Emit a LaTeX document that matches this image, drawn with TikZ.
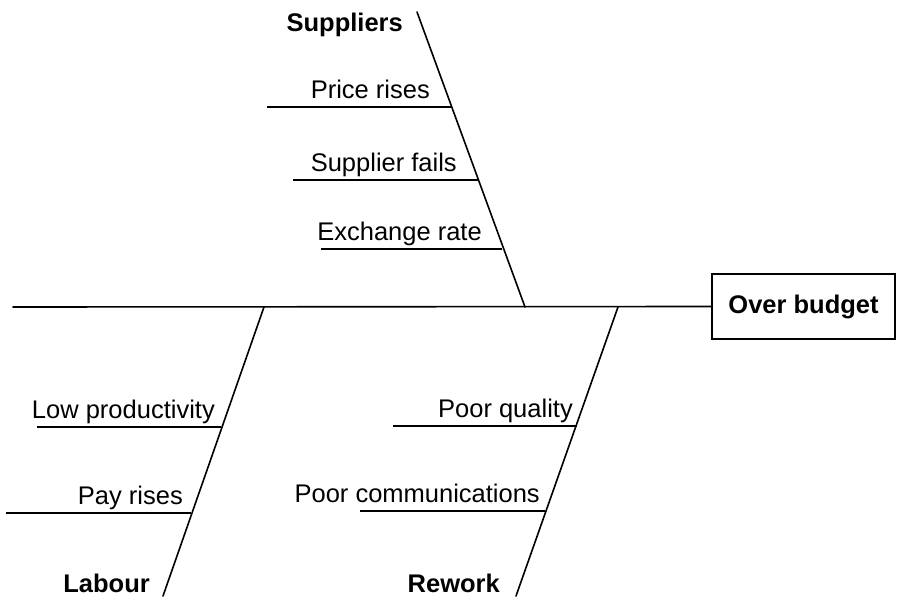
\documentclass[tikz,border=0pt]{standalone}
\usepackage{fontspec}
\setmainfont{Liberation Sans}
\usetikzlibrary{positioning}
\tikzset{
  bone/.style={line width=1.6pt,line cap=round},
  twig/.style={line width=1.4pt},
  causelabel/.style={anchor=base east,inner sep=0pt,font=\fontsize{25.5}{30}\selectfont},
  catlabel/.style={anchor=base east,inner sep=0pt,font=\fontsize{25.5}{30}\selectfont\bfseries},
  effectbox/.style={draw,line width=1.6pt,minimum width=183pt,minimum height=65pt,
    inner sep=0pt,font=\fontsize{25.5}{30}\selectfont\bfseries}
}
\begin{document}
\begin{tikzpicture}[x=1pt,y=-1pt]
  \useasboundingbox (0,0) rectangle (900,597);
  % effect and spine
  \node[effectbox] (effect) at (803.5,306.5) {Over budget};
  \coordinate (tail) at (13,307);
  \draw[bone] (tail) -- (effect.west);
  % suppliers
  \coordinate (supTop) at (417,12);
  \coordinate (supFoot) at (525,307);
  \draw[bone] (supTop) -- (supFoot);
  \node[catlabel] (suppliers) at (403,31) {Suppliers};
  \coordinate (priceL) at (267,107);   \coordinate (priceR) at (452,107);
  \coordinate (failsL) at (293,180);   \coordinate (failsR) at (478,180);
  \coordinate (rateL) at (321,249);    \coordinate (rateR) at (502,249);
  \draw[twig] (priceL) -- (priceR);
  \draw[twig] (failsL) -- (failsR);
  \draw[twig] (rateL) -- (rateR);
  \node[causelabel] (price) at (430,98) {Price rises};
  \node[causelabel] (fails) at (457,171) {Supplier fails};
  \node[causelabel] (rate) at (482,240) {Exchange rate};
  % labour
  \coordinate (labTop) at (264,307);
  \coordinate (labFoot) at (163,596);
  \draw[bone] (labTop) -- (labFoot);
  \node[catlabel] (labour) at (150,592) {Labour};
  \coordinate (prodL) at (37,427);     \coordinate (prodR) at (221,427);
  \coordinate (payL) at (6,513);       \coordinate (payR) at (191,513);
  \draw[twig] (prodL) -- (prodR);
  \draw[twig] (payL) -- (payR);
  \node[causelabel] (prod) at (215,418) {Low productivity};
  \node[causelabel] (pay) at (183,504) {Pay rises};
  % rework
  \coordinate (rewTop) at (618,307);
  \coordinate (rewFoot) at (516,596);
  \draw[bone] (rewTop) -- (rewFoot);
  \node[catlabel] (rework) at (500,592) {Rework};
  \coordinate (qualL) at (393,426);    \coordinate (qualR) at (577,426);
  \coordinate (commL) at (360,511);    \coordinate (commR) at (545,511);
  \draw[twig] (qualL) -- (qualR);
  \draw[twig] (commL) -- (commR);
  \node[causelabel] (qual) at (573,417) {Poor quality};
  \node[causelabel] (comm) at (540,502) {Poor communications};
\end{tikzpicture}
\end{document}
